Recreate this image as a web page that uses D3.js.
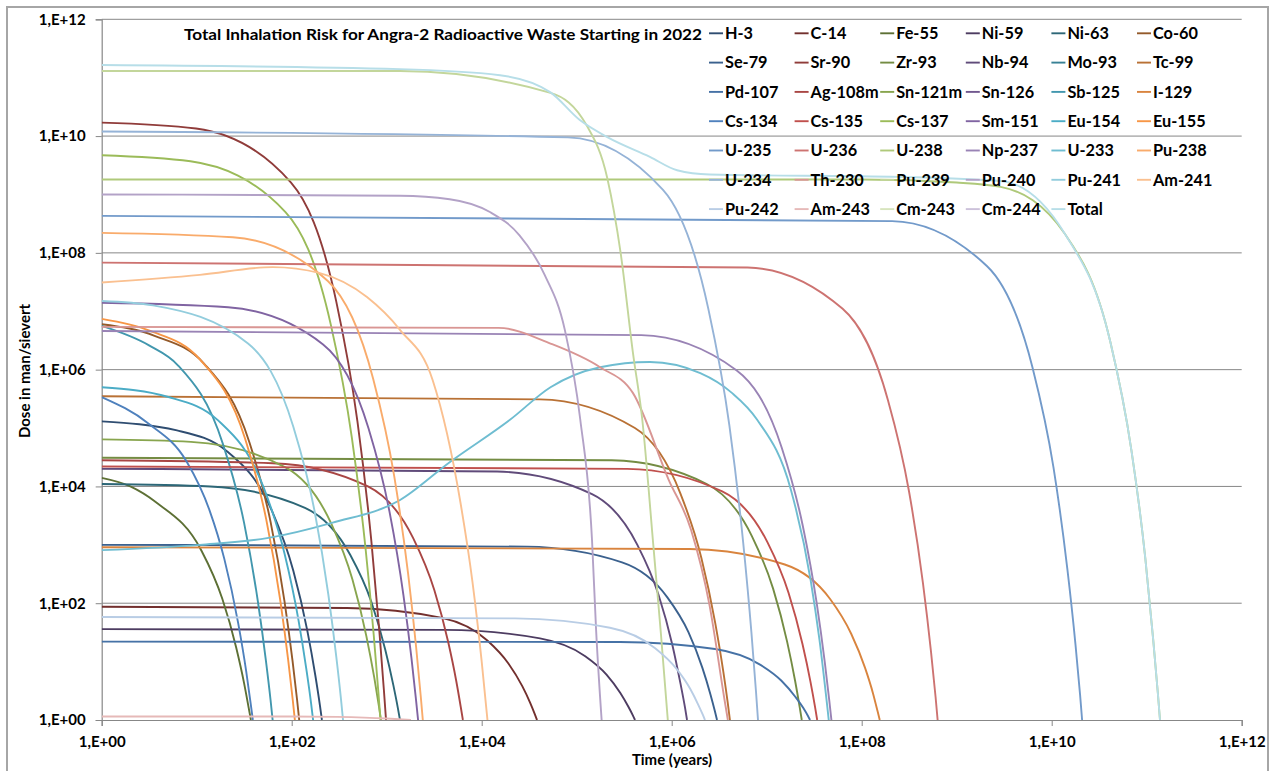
<!DOCTYPE html>
<html><head><meta charset="utf-8">
<script src="https://cdn.jsdelivr.net/npm/d3@7"></script>
<style>
body{margin:0;background:#fff;}
text{font-family:Lato,"Open Sans",sans-serif;font-weight:bold;fill:#000;}
</style></head>
<body><svg id="chart" width="1279" height="771"></svg>
<script>
// ---------- tick values / labels ----------
const xTickValues = [1,1e2,1e4,1e6,1e8,1e10,1e12];
const yTickValues = [1,1e2,1e4,1e6,1e8,1e10,1e12];
const tickLabels = ["1,E+00","1,E+02","1,E+04","1,E+06","1,E+08","1,E+10","1,E+12"];

// ---------- series names (legend order) ----------
const seriesNames = ["H-3","C-14","Fe-55","Ni-59","Ni-63","Co-60",
 "Se-79","Sr-90","Zr-93","Nb-94","Mo-93","Tc-99",
 "Pd-107","Ag-108m","Sn-121m","Sn-126","Sb-125","I-129",
 "Cs-134","Cs-135","Cs-137","Sm-151","Eu-154","Eu-155",
 "U-235","U-236","U-238","Np-237","U-233","Pu-238",
 "U-234","Th-230","Pu-239","Pu-240","Pu-241","Am-241",
 "Pu-242","Am-243","Cm-243","Cm-244","Total"];

// ---------- series values: [time (years), dose (man/sievert)] ----------
const H_3 = [[1,1.3e5],[6.2,9.1e4],[20.8,4.0e4],[62,3.8e3],[104,360],[146,34],[177,5.9],[198,1.8],[208,1]];
const C_14 = [[1,87],[382,83],[3820,56],[11460,23],[19100,9.3],[26740,3.8],[32470,1.95],[36290,1.25],[38200,1]];
const Fe_55 = [[1,1.4e4],[2,1.0e4],[3.7,5.4e3],[11.2,800],[18.6,119],[26,17.6],[31.6,4.2],[35.3,1.6],[37.2,1]];
const Ni_59 = [[1,36],[4110,35],[41100,25],[1.23e5,12.4],[2.06e5,6.0],[2.88e5,2.9],[3.49e5,1.7],[3.9e5,1.2],[4.11e5,1]];
const Ni_63 = [[1,1.1e4],[13.8,1.0e4],[138,4.3e3],[414,670],[690,105],[966,16],[1173,4.0],[1311,1.6],[1380,1]];
const Co_60 = [[1,6e6],[3.6,3.8e6],[12,1.26e6],[36,5.6e4],[60,2450],[84,108],[102,10.4],[114,2.2],[120,1]];
const Se_79 = [[1,1000],[3e4,930],[3e5,500],[9e5,126],[1.5e6,32],[2.1e6,7.9],[2.55e6,2.8],[2.85e6,1.41],[3e6,1]];
const Sr_90 = [[1,1.7e10],[9.84,1.35e10],[98.4,1.6e9],[295,1.45e7],[492,1.3e5],[689,1170],[836,34],[935,3.2],[984,1]];
const Zr_93 = [[1,3.1e4],[2.34e5,2.8e4],[2.34e6,1.1e4],[7.0e6,1400],[1.17e7,176],[1.64e7,22],[1.99e7,4.7],[2.22e7,1.7],[2.34e7,1]];
const Nb_94 = [[1,2.0e4],[1.45e4,1.8e4],[1.45e5,7.4e3],[4.35e5,1.0e3],[7.25e5,141],[1.015e6,19.5],[1.23e6,4.4],[1.38e6,1.64],[1.45e6,1]];
const Mo_93 = [];
const Tc_99 = [[1,3.5e5],[4.1e4,3.1e5],[4.1e5,1.0e5],[1.23e6,7.7e3],[2.05e6,600],[2.87e6,46],[3.49e6,6.8],[3.9e6,1.9],[4.1e6,1]];
const Pd_107 = [[1,22],[2.86e5,21.7],[2.86e6,16.4],[8.6e6,8.8],[1.43e7,4.7],[2.0e7,2.5],[2.43e7,1.6],[2.72e7,1.17],[2.86e7,1]];
const Ag_108m = [[1,2.8e4],[63,2.5e4],[634,1.0e4],[1900,1300],[3170,168],[4440,21.6],[5390,4.7],[6020,1.67],[6340,1]];
const Sn_121m = [[1,6.4e4],[8.7,5.8e4],[87,2.1e4],[261,2300],[436,254],[610,27.6],[740,5.3],[827,1.74],[871,1]];
const Sn_126 = [];
const Sb_125 = [[1,5.6e6],[3.15,2.6e6],[6.3,1.2e6],[18.9,5.3e4],[31.5,2400],[44.1,106],[53.6,10.2],[59.9,2.2],[63,1]];
const I_129 = [[1,910],[1.55e6,850],[1.55e7,460],[4.65e7,118],[7.75e7,30],[1.085e8,7.8],[1.32e8,2.8],[1.47e8,1.41],[1.55e8,1]];
const Cs_134 = [[1,3.4e5],[3.1,1.2e5],[7.8,2.7e4],[13.65,3.9e3],[19.5,580],[27.3,46],[33.2,6.8],[37,1.9],[39,1]];
const Cs_135 = [[1,2.2e4],[3.4e5,2.0e4],[3.4e6,8.2e3],[1.02e7,1.1e3],[1.7e7,150],[2.38e7,20],[2.89e7,4.5],[3.23e7,1.66],[3.4e7,1]];
const Cs_137 = [[1,4.7e9],[8.6,3.7e9],[86,5.0e8],[258,5.9e6],[430,6.8e4],[602,800],[731,28],[817,3.0],[860,1]];
const Sm_151 = [[1,1.4e7],[21.4,1.17e7],[214,2.7e6],[642,1.0e5],[1070,3.7e3],[1500,138],[1820,11.7],[2030,2.3],[2140,1]];
const Eu_154 = [[1,5.0e5],[5.04,3.4e5],[16.8,1.35e5],[50.4,9.8e3],[84,710],[118,51],[143,7.2],[160,1.93],[168,1]];
const Eu_155 = [[1,7.4e6],[3.24,4.6e6],[10.8,1.5e6],[32.4,6.5e4],[54,2700],[75.6,115],[91.8,10.7],[102.6,2.2],[108,1]];
const U_235 = [[1,4.3e8],[2.09e8,3.5e8],[2.09e9,5.9e7],[6.27e9,1.1e6],[1.045e10,2.1e4],[1.46e10,390],[1.78e10,19.6],[1.99e10,2.7],[2.09e10,1]];
const U_236 = [[1,6.8e7],[6.3e6,5.6e7],[6.3e7,1.1e7],[1.89e8,3.0e5],[3.15e8,8.2e3],[4.41e8,224],[5.36e8,15],[5.99e8,2.5],[6.3e8,1]];
const U_238 = [[1,1.8e9],[1e8,1.8e9],[1e9,1.6e9],[2.9e9,1.35e9],[1.38e10,2.1e8],[4.14e10,3.0e6],[6.9e10,4.2e4],[9.66e10,600],[1.17e11,24],[1.31e11,2.9],[1.38e11,1]];
const Np_237 = [[1,4.6e6],[4.8e5,3.9e6],[4.8e6,9.8e5],[1.44e7,4.6e4],[2.4e7,2.1e3],[3.36e7,100],[4.08e7,10],[4.56e7,2.15],[4.8e7,1]];
const U_233 = [[1,810],[10.8,1000],[55,1300],[270,2400],[1370,5800],[4600,2.6e4],[2.0e4,1.4e5],[5.3e4,5.0e5],[1.76e5,1.1e6],[5.9e5,1.35e6],[2.0e6,8.7e5],[4.3e6,4.0e5],[7.9e6,1.4e5],[1.8e7,8.7e3],[2.9e7,250],[3.6e7,23],[4.5e7,1]];
const Pu_238 = [[1,2.2e8],[24,1.85e8],[240,3.3e7],[720,7.0e5],[1200,1.5e4],[1680,320],[2040,17.8],[2280,2.6],[2400,1]];
const U_234 = [[1,1.2e10],[8.1e4,9.5e9],[8.1e5,1.2e9],[2.43e6,1.1e7],[4.05e6,1.1e5],[5.67e6,1050],[6.9e6,32],[7.7e6,3.2],[8.1e6,1]];
const Th_230 = [[1,5.4e6],[1.5e4,5.2e6],[5.3e4,2.8e6],[1.76e5,1.1e6],[3.9e5,4.0e5],[9.3e5,1.3e4],[1.6e6,1.8e3],[2.5e6,93],[3.6e6,2.2],[3.9e6,1]];
const Pu_239 = [[1,1.3e11],[1380,1.3e11],[5.3e4,5.5e10],[1.28e5,1.5e10],[2.1e5,1.9e9],[2.9e5,1.0e8],[3.9e5,2.0e6],[4.9e5,1.4e5],[6.4e5,1.0e3],[7.7e5,30],[9.1e5,1]];
const Pu_240 = [[1,1e9],[1380,9.5e8],[4600,8.3e8],[1.22e4,5e8],[2.5e4,2e8],[4.6e4,4.2e7],[7.5e4,4.8e6],[1.09e5,1.4e5],[1.45e5,1.2e3],[1.6e5,35],[1.83e5,1]];
const Pu_241 = [[1,1.5e7],[3.47,1.26e7],[34.7,2.8e6],[104,1.05e5],[174,3.8e3],[243,141],[295,11.9],[330,2.3],[347,1]];
const Am_241 = [[1,3.1e7],[10.8,4.2e7],[63,5.7e7],[198,4.5e7],[620,1.75e7],[1380,4.8e6],[3050,6.6e5],[6000,5.1e3],[8000,230],[10000,10],[11500,1]];
const Pu_242 = [[1,58],[2.24e4,55],[2.24e5,38],[6.7e5,17],[1.12e6,7.6],[1.57e6,3.4],[1.9e6,1.84],[2.13e6,1.22],[2.24e6,1]];
const Am_243 = [[1,1.15],[100,1.15],[300,1.13],[1000,1.06],[1800,1]];
const Cm_243 = [];
const Cm_244 = [];
const Total = [[1,1.65e11],[1380,1.4e11],[1.56e4,1.1e11],[5.3e4,5.6e10],[1.07e5,1.9e10],[2.1e5,9.6e9],[5.9e5,4.4e9],[1.14e6,2.6e9],[2.5e6,2.2e9],[2.5e8,2.0e9],[2.9e9,1.7e9],[1.38e10,2.1e8],[4.14e10,3.0e6],[6.9e10,4.2e4],[9.66e10,600],[1.17e11,24],[1.31e11,2.9],[1.38e11,1]];

const seriesValues = [H_3,C_14,Fe_55,Ni_59,Ni_63,Co_60,
 Se_79,Sr_90,Zr_93,Nb_94,Mo_93,Tc_99,
 Pd_107,Ag_108m,Sn_121m,Sn_126,Sb_125,I_129,
 Cs_134,Cs_135,Cs_137,Sm_151,Eu_154,Eu_155,
 U_235,U_236,U_238,Np_237,U_233,Pu_238,
 U_234,Th_230,Pu_239,Pu_240,Pu_241,Am_241,
 Pu_242,Am_243,Cm_243,Cm_244,Total];

// ---------- styling ----------
const accents = ["#4F81BD","#C0504D","#9BBB59","#8064A2","#4BACC6","#F79646"];
const rowVariation = [-0.4,-0.25,-0.12,0,0.2,0.4,0.6];
function seriesColor(i){
  const c = d3.rgb(accents[i%6]);
  const v = rowVariation[Math.floor(i/6)];
  if (v < 0) return d3.rgb(c.r*(1+v), c.g*(1+v), c.b*(1+v)).formatHex();
  return d3.rgb(c.r+(255-c.r)*v, c.g+(255-c.g)*v, c.b+(255-c.b)*v).formatHex();
}

const svg = d3.select("#chart");
const plot = {left:101.7, right:1241.7, top:19.3, bottom:720};

// outer frame
svg.append("rect").attr("x",7).attr("y",7).attr("width",1261).attr("height",790)
  .attr("fill","#fff").attr("stroke","#A6A6A6").attr("stroke-width",2);

const x = d3.scaleLog().domain([1,1e12]).range([plot.left,plot.right]);
const y = d3.scaleLog().domain([1,1e12]).range([plot.bottom,plot.top]);

// gridlines
svg.append("g").selectAll("line").data(yTickValues.slice(1)).join("line")
  .attr("x1",plot.left).attr("x2",plot.right)
  .attr("y1",d=>y(d)).attr("y2",d=>y(d))
  .attr("stroke","#878787").attr("stroke-width",1);

// axes
const xAxis = d3.axisBottom(x).tickValues(xTickValues).tickFormat((d,i)=>tickLabels[i]).tickSize(6).tickPadding(10);
const yAxis = d3.axisLeft(y).tickValues(yTickValues).tickFormat((d,i)=>tickLabels[i]).tickSize(6).tickPadding(10);
const gx = svg.append("g").attr("transform",`translate(0,${plot.bottom})`).call(xAxis);
const gy = svg.append("g").attr("transform",`translate(${plot.left},0)`).call(yAxis);
[gx,gy].forEach(g=>{
  g.select(".domain").attr("stroke","#878787").attr("stroke-width",1.2);
  g.selectAll(".tick line").attr("stroke","#878787");
  g.selectAll(".tick text").style("font-family","Lato").style("font-weight","bold").style("font-size","15px").attr("fill","#000");
});
gx.selectAll(".tick text").attr("dy","0.71em");
gy.selectAll(".tick text").attr("x",-16);

// clip
svg.append("clipPath").attr("id","clip").append("rect")
  .attr("x",plot.left).attr("y",plot.top-2).attr("width",plot.right-plot.left).attr("height",plot.bottom-plot.top+2);

const line = d3.line().x(d=>x(d[0])).y(d=>y(d[1])).curve(d3.curveMonotoneX);
const gLines = svg.append("g").attr("clip-path","url(#clip)");
seriesValues.forEach((s,i)=>{
  if (!s.length) return;
  gLines.append("path").datum(s).attr("d",line)
    .attr("fill","none").attr("stroke",seriesColor(i)).attr("stroke-width",1.9)
    .attr("stroke-linejoin","round");
});

// title
svg.append("text").attr("x",184).attr("y",40).style("font-size","16px")
  .attr("textLength",518).attr("lengthAdjust","spacingAndGlyphs")
  .text("Total Inhalation Risk for Angra-2 Radioactive Waste Starting in 2022");

// legend
const legendX0 = 725, legendDX = 85.6, legendY0 = 33.3, legendDY = 29.3;
const lg = svg.append("g");
seriesNames.forEach((n,i)=>{
  const col = i%6, row = Math.floor(i/6);
  const tx = legendX0 + col*legendDX, ty = legendY0 + row*legendDY;
  lg.append("line").attr("x1",tx-16).attr("x2",tx-2).attr("y1",ty).attr("y2",ty)
    .attr("stroke",seriesColor(i)).attr("stroke-width",1.9);
  lg.append("text").attr("x",tx).attr("y",ty).attr("dy","0.36em").style("font-size","16.3px").text(n);
});

// axis titles
svg.append("text").attr("x",672).attr("y",765).attr("text-anchor","middle").style("font-size","15px").text("Time (years)");
svg.append("text").attr("transform","translate(30,371) rotate(-90)").attr("text-anchor","middle").style("font-size","15px").text("Dose in man/sievert");
</script></body></html>
